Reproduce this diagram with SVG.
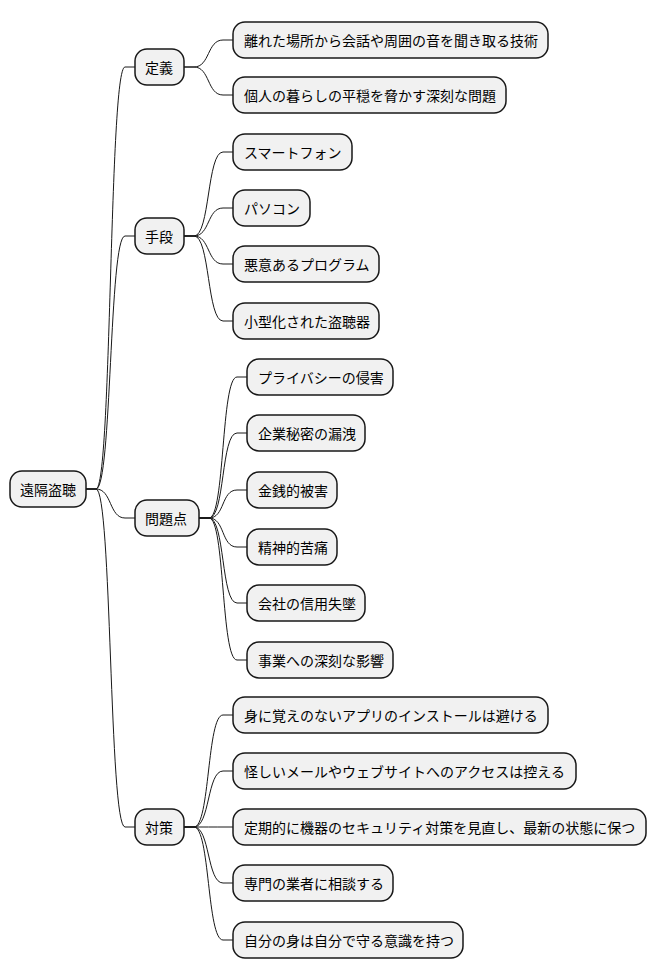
<svg xmlns="http://www.w3.org/2000/svg" width="656" height="978" viewBox="0 0 656 978">
<style>
rect.n{fill:#f1f1f1;stroke:#181818;stroke-width:1.5}
text{font-family:"Noto Sans CJK JP","Liberation Sans",sans-serif;font-size:14px;fill:#000;dominant-baseline:central}
#c path{fill:none;stroke:#181818;stroke-width:1}
</style>
<rect width="656" height="978" style="fill:#fff;stroke:none"/>
<g id="c">
<path d="M86,489 L96,489 C112,489 109,67 125,67 L135,67"/>
<path d="M86,489 L96,489 C112,489 109,236 125,236 L135,236"/>
<path d="M86,489 L96,489 C112,489 109,518 125,518 L135,518"/>
<path d="M86,489 L96,489 C112,489 109,827 125,827 L135,827"/>
<path d="M184,67 L194,67 C210,67 207,40 223,40 L233,40"/>
<path d="M184,67 L194,67 C210,67 207,95 223,95 L233,95"/>
<path d="M184,236 L194,236 C210,236 207,152 223,152 L233,152"/>
<path d="M184,236 L194,236 C210,236 207,208 223,208 L233,208"/>
<path d="M184,236 L194,236 C210,236 207,264 223,264 L233,264"/>
<path d="M184,236 L194,236 C210,236 207,321 223,321 L233,321"/>
<path d="M199,518 L209,518 C225,518 221,377 237,377 L247,377"/>
<path d="M199,518 L209,518 C225,518 221,433 237,433 L247,433"/>
<path d="M199,518 L209,518 C225,518 221,490 237,490 L247,490"/>
<path d="M199,518 L209,518 C225,518 221,547 237,547 L247,547"/>
<path d="M199,518 L209,518 C225,518 221,603 237,603 L247,603"/>
<path d="M199,518 L209,518 C225,518 221,660 237,660 L247,660"/>
<path d="M184,827 L194,827 C210,827 207,715 223,715 L233,715"/>
<path d="M184,827 L194,827 C210,827 207,771 223,771 L233,771"/>
<path d="M184,827 L194,827 C210,827 207,827 223,827 L233,827"/>
<path d="M184,827 L194,827 C210,827 207,883 223,883 L233,883"/>
<path d="M184,827 L194,827 C210,827 207,940 223,940 L233,940"/>
</g>
<g id="root"><rect class="n" x="10" y="471" width="76" height="36" rx="12"/><text x="20" y="489">遠隔盗聴</text></g>
<g id="n1"><rect class="n" x="135" y="49" width="49" height="36" rx="12"/><text x="145" y="67">定義</text></g>
<g id="n1a"><rect class="n" x="233" y="22" width="315" height="36" rx="12"/><text x="244" y="40">離れた場所から会話や周囲の音を聞き取る技術</text></g>
<g id="n1b"><rect class="n" x="233" y="77" width="273" height="36" rx="12"/><text x="244" y="95">個人の暮らしの平穏を脅かす深刻な問題</text></g>
<g id="n2"><rect class="n" x="135" y="218" width="49" height="36" rx="12"/><text x="145" y="236">手段</text></g>
<g id="n2a"><rect class="n" x="233" y="134" width="119" height="36" rx="12"/><text x="244" y="152">スマートフォン</text></g>
<g id="n2b"><rect class="n" x="233" y="190" width="77" height="36" rx="12"/><text x="244" y="208">パソコン</text></g>
<g id="n2c"><rect class="n" x="233" y="246" width="146" height="36" rx="12"/><text x="244" y="264">悪意あるプログラム</text></g>
<g id="n2d"><rect class="n" x="233" y="303" width="146" height="36" rx="12"/><text x="244" y="321">小型化された盗聴器</text></g>
<g id="n3"><rect class="n" x="135" y="500" width="64" height="36" rx="12"/><text x="145" y="518">問題点</text></g>
<g id="n3a"><rect class="n" x="247" y="359" width="146" height="36" rx="12"/><text x="258" y="377">プライバシーの侵害</text></g>
<g id="n3b"><rect class="n" x="247" y="415" width="118" height="36" rx="12"/><text x="258" y="433">企業秘密の漏洩</text></g>
<g id="n3c"><rect class="n" x="247" y="472" width="90" height="36" rx="12"/><text x="258" y="490">金銭的被害</text></g>
<g id="n3d"><rect class="n" x="247" y="529" width="90" height="36" rx="12"/><text x="258" y="547">精神的苦痛</text></g>
<g id="n3e"><rect class="n" x="247" y="585" width="118" height="36" rx="12"/><text x="258" y="603">会社の信用失墜</text></g>
<g id="n3f"><rect class="n" x="247" y="642" width="146" height="36" rx="12"/><text x="258" y="660">事業への深刻な影響</text></g>
<g id="n4"><rect class="n" x="135" y="809" width="49" height="36" rx="12"/><text x="145" y="827">対策</text></g>
<g id="n4a"><rect class="n" x="233" y="697" width="315" height="36" rx="12"/><text x="244" y="715">身に覚えのないアプリのインストールは避ける</text></g>
<g id="n4b"><rect class="n" x="233" y="753" width="343" height="36" rx="12"/><text x="244" y="771">怪しいメールやウェブサイトへのアクセスは控える</text></g>
<g id="n4c"><rect class="n" x="233" y="809" width="413" height="36" rx="12"/><text x="244" y="827">定期的に機器のセキュリティ対策を見直し、最新の状態に保つ</text></g>
<g id="n4d"><rect class="n" x="233" y="865" width="160" height="36" rx="12"/><text x="244" y="883">専門の業者に相談する</text></g>
<g id="n4e"><rect class="n" x="233" y="922" width="230" height="36" rx="12"/><text x="244" y="940">自分の身は自分で守る意識を持つ</text></g>
</svg>
